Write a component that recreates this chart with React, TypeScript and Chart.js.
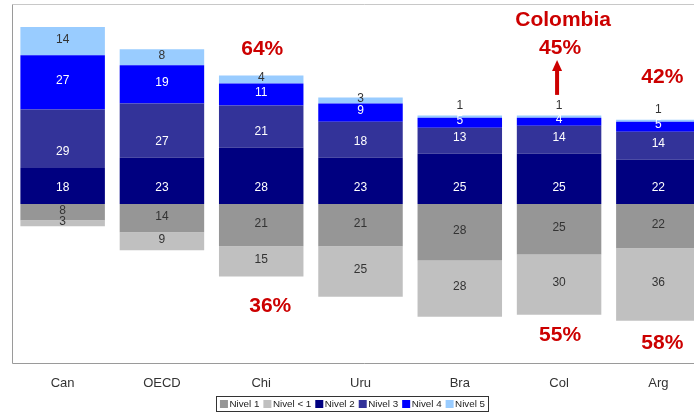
import React, { useEffect, useRef } from "react";
import { Chart, registerables } from "chart.js";

Chart.register(...registerables);

// ---- data ----
const categories = ["Can", "OECD", "Chi", "Uru", "Bra", "Col", "Arg"];
const nivel1 = [8, 14, 21, 21, 28, 25, 22];
const nivelMenos1 = [3, 9, 15, 25, 28, 30, 36];
const nivel2 = [18, 23, 28, 23, 25, 25, 22];
const nivel3 = [29, 27, 21, 18, 13, 14, 14];
const nivel4 = [27, 19, 11, 9, 5, 4, 5];
const nivel5 = [14, 8, 4, 3, 1, 1, 1];
const seriesLabels = ["Nivel 1", "Nivel < 1", "Nivel 2", "Nivel 3", "Nivel 4", "Nivel 5"];

// annotations (text, category, value on y scale)
const noteTexts = ["64%", "36%", "Colombia", "45%", "42%", "55%", "58%"];
const noteCategories = ["Chi", "Chi", "Col", "Col", "Arg", "Col", "Arg"];
const noteValues = [77, -51, 91.3, 77.6, 63.2, -65.4, -69.4];
const arrowCategory = "Col";
const arrowFrom = 54.3;
const arrowTo = 71.7;

// ---- styles ----
const colors = ["#969696", "#C0C0C0", "#000080", "#333399", "#0000FF", "#99CCFF"];
const labelColors = ["#333333", "#333333", "#ffffff", "#ffffff", "#ffffff", "#333333"];
const labelAnchors = ["center", "center", "base", "base", "center", "center"];
const noteDx = [1, 9, 4, 1, 4, 1, 4];
const RED = "#cc0000";
const FONT = '"Liberation Sans", Arial, sans-serif';

const frame = {
  id: "frame",
  beforeDatasetsDraw(chart: any) {
    const { ctx, chartArea: a } = chart;
    ctx.save();
    ctx.lineWidth = 1;
    ctx.strokeStyle = "#c8c8c8";
    ctx.beginPath();
    ctx.moveTo(Math.round(a.left) - 0.5, Math.round(a.top) - 0.5);
    ctx.lineTo(a.right + 20, Math.round(a.top) - 0.5);
    ctx.stroke();
    ctx.strokeStyle = "#9a9a9a";
    ctx.beginPath();
    ctx.moveTo(Math.round(a.left) - 0.5, Math.round(a.top) - 0.5);
    ctx.lineTo(Math.round(a.left) - 0.5, Math.round(a.bottom) + 0.5);
    ctx.lineTo(a.right + 20, Math.round(a.bottom) + 0.5);
    ctx.stroke();
    ctx.restore();
  },
};

const labels = {
  id: "barLabels",
  afterDatasetsDraw(chart: any) {
    const ctx = chart.ctx;
    ctx.save();
    ctx.font = `12px ${FONT}`;
    ctx.textAlign = "center";
    ctx.textBaseline = "middle";
    chart.data.datasets.forEach((ds: any, di: number) => {
      const meta = chart.getDatasetMeta(di);
      meta.data.forEach((el: any, i: number) => {
        const v = Math.abs(ds.data[i]);
        const { x, y, base } = el.getProps(["x", "y", "base"], true);
        let ty: number;
        let col = labelColors[di];
        if (v < 2) {
          ty = Math.min(y, base) - 10;
          col = "#333333";
        } else if (labelAnchors[di] === "base") {
          ty = base - 16;
        } else {
          ty = (y + base) / 2 - 1.5;
        }
        ctx.fillStyle = col;
        ctx.fillText(String(v), x, ty);
      });
    });
    ctx.restore();
  },
};

const notes = {
  id: "notes",
  afterDraw(chart: any) {
    const ctx = chart.ctx;
    const xs = chart.scales.x;
    const ys = chart.scales.y;
    ctx.save();
    ctx.font = `bold 21px ${FONT}`;
    ctx.textAlign = "center";
    ctx.textBaseline = "middle";
    ctx.fillStyle = RED;
    noteTexts.forEach((t, i) => {
      const x = xs.getPixelForValue(categories.indexOf(noteCategories[i])) + noteDx[i];
      const y = ys.getPixelForValue(noteValues[i]);
      ctx.fillText(t, x, y);
    });
    // arrow
    const ax = xs.getPixelForValue(categories.indexOf(arrowCategory)) - 2;
    const y0 = ys.getPixelForValue(arrowFrom);
    const y1 = ys.getPixelForValue(arrowTo);
    ctx.strokeStyle = RED;
    ctx.lineWidth = 4;
    ctx.beginPath();
    ctx.moveTo(ax, y0);
    ctx.lineTo(ax, y1 + 9);
    ctx.stroke();
    ctx.beginPath();
    ctx.moveTo(ax, y1);
    ctx.lineTo(ax - 5, y1 + 11);
    ctx.lineTo(ax + 5, y1 + 11);
    ctx.closePath();
    ctx.fill();

    // legend
    ctx.font = `9.8px ${FONT}`;
    ctx.textAlign = "left";
    const box = 8, gap = 1.5, spacing = 4;
    const widths = seriesLabels.map((s) => box + gap + ctx.measureText(s).width);
    const total = widths.reduce((a, b) => a + b, 0) + spacing * (widths.length - 1);
    const bx0 = 216.5, bx1 = 488.5, by0 = 396.5, by1 = 411.5;
    ctx.strokeStyle = "#333333";
    ctx.lineWidth = 1;
    ctx.strokeRect(bx0, by0, bx1 - bx0, by1 - by0);
    let cx = (bx0 + bx1) / 2 - total / 2;
    const cy = 404;
    seriesLabels.forEach((s, i) => {
      ctx.fillStyle = colors[i];
      ctx.fillRect(cx, cy - 4, box, box);
      ctx.fillStyle = "#222222";
      ctx.fillText(s, cx + box + gap, cy);
      cx += widths[i] + spacing;
    });
    ctx.restore();
  },
};

export default function App() {
  const ref = useRef<HTMLCanvasElement>(null);
  useEffect(() => {
    document.body.style.margin = "0";
    const series = [
      nivel1.map((v) => -v),
      nivelMenos1.map((v) => -v),
      nivel2,
      nivel3,
      nivel4,
      nivel5,
    ];
    const chart = new Chart(ref.current!, {
      type: "bar",
      data: {
        labels: categories,
        datasets: series.map((d, i) => ({
          label: seriesLabels[i],
          data: d,
          backgroundColor: colors[i],
          borderWidth: 0,
          barPercentage: 0.851,
          categoryPercentage: 1,
        })),
      },
      options: {
        responsive: false,
        animation: false,
        layout: { padding: { left: 13, right: 8, top: 5, bottom: 21 } },
        plugins: { legend: { display: false }, tooltip: { enabled: false } },
        scales: {
          x: {
            stacked: true,
            grid: { display: false, drawTicks: false },
            border: { display: false },
            ticks: { color: "#333333", font: { family: FONT, size: 13 }, padding: 13 },
            afterFit: (s: any) => {
              s.height = 28;
            },
          },
          y: { stacked: true, display: false, min: -79, max: 99 },
        },
      },
      plugins: [frame, labels, notes],
    });
    return () => chart.destroy();
  }, []);
  return (
    <div style={{ width: 694, height: 412, overflow: "hidden", position: "relative", background: "#fff" }}>
      <canvas ref={ref} width={716} height={412} style={{ display: "block", width: 716, height: 412 }} />
    </div>
  );
}
